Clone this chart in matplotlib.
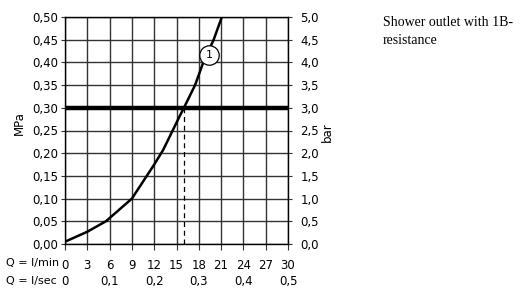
import matplotlib
matplotlib.use("Agg")
import matplotlib.pyplot as plt
import matplotlib.transforms as mtransforms

# flow (l/min) vs pressure (MPa)
flow = [0, 3, 5.5, 9, 12, 13.2, 15.5, 16.0, 17.5, 18.6, 20.0, 21.1]
pressure = [0.005, 0.027, 0.05, 0.10, 0.175, 0.207, 0.284, 0.30, 0.35, 0.40, 0.45, 0.50]

x_ticks = [0, 3, 6, 9, 12, 15, 18, 21, 24, 27, 30]
y_ticks = [0, 0.05, 0.10, 0.15, 0.20, 0.25, 0.30, 0.35, 0.40, 0.45, 0.50]
sec_ticks = [0, 6, 12, 18, 24, 30]
sec_labels = ["0", "0,1", "0,2", "0,3", "0,4", "0,5"]
bar_labels = ["0,0", "0,5", "1,0", "1,5", "2,0", "2,5", "3,0", "3,5", "4,0", "4,5", "5,0"]

min_pressure = 0.30
work_flow = 16.0
label_pos = (19.4, 0.416)

fig = plt.figure(figsize=(5.25, 2.91), dpi=100)
ax = fig.add_axes([65 / 525, 1 - 244 / 291, 223 / 525, 227 / 291])

ax.set_xlim(0, 30)
ax.set_ylim(0, 0.5)
ax.set_xticks(x_ticks)
ax.set_xticklabels([str(v) for v in x_ticks])
ax.set_yticks(y_ticks)
ax.set_yticklabels([f"{v:.2f}".replace(".", ",") for v in y_ticks])
ax.grid(True, color="#333333", lw=1.0)
ax.set_axisbelow(True)
for s in ax.spines.values():
    s.set_color("black")
    s.set_linewidth(1.0)
ax.tick_params(axis="x", length=4, pad=7, labelsize=8.5, color="#333333")
ax.tick_params(axis="y", length=3, pad=2, labelsize=8.5, color="#333333")

# curve, minimum pressure line, working point
ax.axhline(min_pressure, color="black", lw=3.2, zorder=3)
ax.plot([work_flow, work_flow], [0, min_pressure], color="black", lw=0.9, ls=(0, (4, 3)), zorder=3)
ax.plot(flow, pressure, color="black", lw=1.8, zorder=4)
ax.plot(*label_pos, marker="o", ms=14, mfc="white", mec="black", mew=0.9, zorder=5)
ax.text(*label_pos, "1", ha="center", va="center", fontsize=8, zorder=6)

ax.set_ylabel("MPa", fontsize=8.5)
ax.yaxis.set_label_coords(-0.175, 0.533)

# right axis in bar
ax2 = ax.twinx()
ax2.set_ylim(0, 0.5)
ax2.set_yticks(y_ticks)
ax2.set_yticklabels(bar_labels)
ax2.tick_params(axis="y", length=3, pad=6, labelsize=8.5, color="#333333")
for s in ax2.spines.values():
    s.set_visible(False)
ax2.text(1.175, 0.495, "bar", transform=ax.transAxes, rotation=90,
         ha="center", va="center", fontsize=8.5)

# second row of flow labels (l/sec)
trans = mtransforms.blended_transform_factory(ax.transData, ax.transAxes)
for x, lab in zip(sec_ticks, sec_labels):
    ax.text(x, -0.163, lab, transform=trans, ha="center", va="center", fontsize=8.5)
fig.text(6 / 525, 1 - 263 / 291, "Q = l/min", ha="left", va="center", fontsize=8)
fig.text(6 / 525, 1 - 281 / 291, "Q = l/sec", ha="left", va="center", fontsize=8)

fig.text(383 / 525, 1 - 16 / 291, "Shower outlet with 1B-\nresistance", ha="left", va="top",
         fontsize=10, family="Liberation Serif", linespacing=1.45)

fig.savefig("out.png", dpi=100)
